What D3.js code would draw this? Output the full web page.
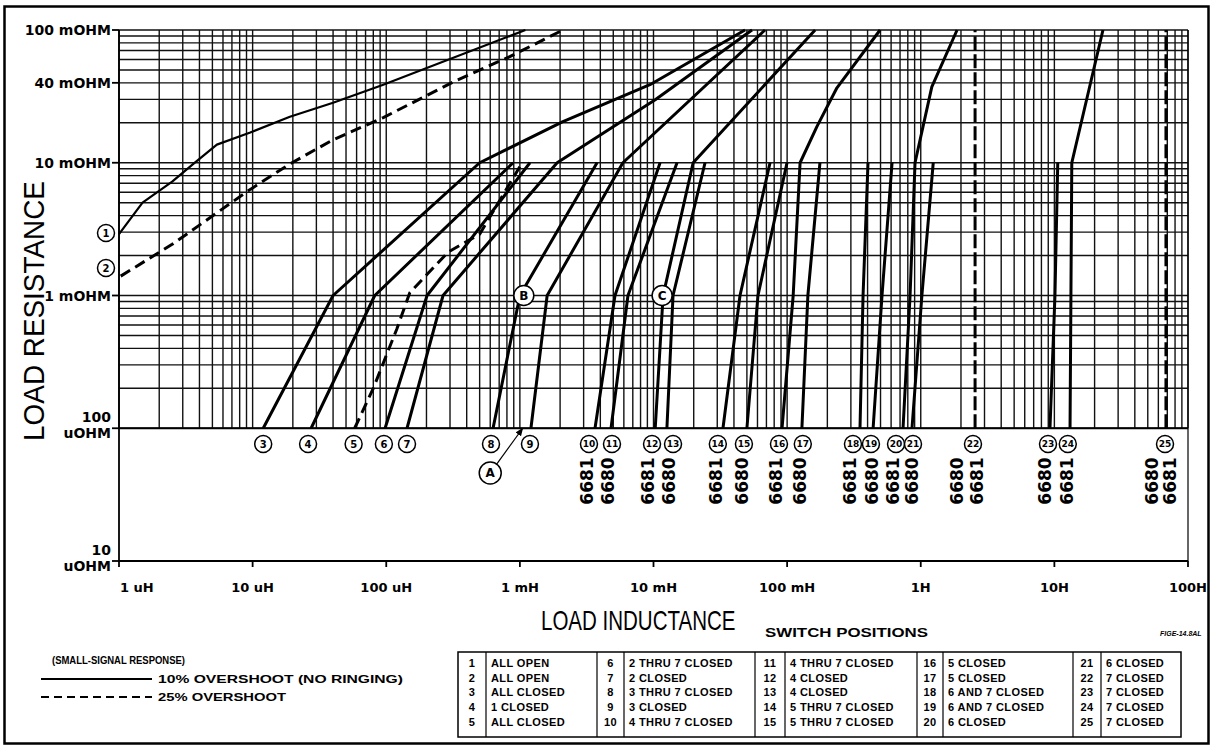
<!DOCTYPE html>
<html>
<head>
<meta charset="utf-8">
<script src="https://cdn.jsdelivr.net/npm/d3@7"></script>
<style>
  body { margin: 0; background: #fff; }
  svg { display: block; font-family: "DejaVu Sans", sans-serif; }
</style>
</head>
<body>
<svg id="chart" width="1214" height="746"></svg>
<script>
// load resistance (ohm) vs load inductance (henry), one polyline per switch position
var c1 = [[1e-6, 2.9e-3], [1.5e-6, 5.0e-3], [2.5e-6, 7.2e-3], [3.6e-6, 9.8e-3], [5.4e-6, 1.37e-2], [9.6e-6, 1.69e-2], [1.9e-5, 2.22e-2], [4.0e-5, 2.83e-2], [9.5e-5, 3.87e-2], [1.1e-3, 0.1]];
var c2 = [[1.03e-6, 1.4e-3], [2.5e-6, 2.43e-3], [9.6e-6, 6.3e-3], [1.9e-5, 9.8e-3], [4.0e-5, 1.49e-2], [9.5e-5, 2.19e-2], [3.4e-4, 4.2e-2], [8.4e-4, 6.3e-2], [2.1e-3, 0.1]];
var c3 = [[1.2e-5, 1e-4], [4.0e-5, 1e-3], [5.0e-4, 1e-2], [2.1e-3, 2.04e-2], [9.4e-3, 3.87e-2], [4.84e-2, 0.1]];
var c4 = [[2.74e-5, 1e-4], [8.2e-5, 1e-3], [8.9e-4, 1e-2]];
var c5 = [[5.8e-5, 1e-4], [8.0e-5, 2.0e-4], [1.2e-4, 5.6e-4], [1.5e-4, 1.05e-3], [2.9e-4, 2.12e-3], [5.0e-4, 2.9e-3], [1.04e-3, 1e-2]];
var c6 = [[9.8e-5, 1e-4], [2.02e-4, 1e-3], [1.19e-3, 1e-2]];
var c7 = [[1.43e-4, 1e-4], [2.66e-4, 1e-3], [1.9e-3, 1e-2], [1.03e-2, 2.98e-2], [5.46e-2, 0.1]];
var c8 = [[6.3e-4, 1e-4], [1.0e-3, 1e-3], [3.78e-3, 1e-2]];
var c9 = [[1.21e-3, 1e-4], [1.6e-3, 1e-3], [5.9e-3, 1e-2], [6.83e-2, 0.1]];
var c10 = [[3.65e-3, 1e-4], [5.15e-3, 1e-3], [1.12e-2, 1e-2]];
var c11 = [[4.81e-3, 1e-4], [6.44e-3, 1e-3], [1.5e-2, 1e-2]];
var c12 = [[1.03e-2, 1e-4], [1.18e-2, 1e-3], [1.98e-2, 1e-2], [0.162, 0.1]];
var c13 = [[1.26e-2, 1e-4], [1.4e-2, 1e-3], [2.43e-2, 1e-2]];
var c14 = [[3.31e-2, 1e-4], [4.44e-2, 1e-3], [7.45e-2, 1e-2]];
var c15 = [[5.0e-2, 1e-4], [6.05e-2, 1e-3], [9.98e-2, 1e-2]];
var c16 = [[9.16e-2, 1e-4], [0.111, 1e-3], [0.125, 1e-2], [0.167, 1.87e-2], [0.236, 3.67e-2], [0.496, 0.1]];
var c17 = [[0.129, 1e-4], [0.143, 1e-3], [0.176, 1e-2]];
var c18 = [[0.351, 1e-4], [0.37, 1e-3], [0.403, 1e-2]];
var c19 = [[0.44, 1e-4], [0.513, 1e-3], [0.61, 1e-2]];
var c20 = [[0.737, 1e-4], [0.832, 1e-3], [0.906, 1e-2], [1.21, 3.73e-2], [1.87, 0.1]];
var c21 = [[0.86, 1e-4], [1.02, 1e-3], [1.24, 1e-2]];
var c22 = [[2.55, 1e-4], [2.55, 0.1]];
var c23 = [[9.27, 1e-4], [10.1, 1e-3], [10.6, 1e-2]];
var c24 = [[13.1, 1e-4], [13.3, 1e-3], [13.5, 1e-2], [23.1, 0.1]];
var c25 = [[68.4, 1e-4], [68.4, 0.1]];

var curvePoints = [c1, c2, c3, c4, c5, c6, c7, c8, c9, c10, c11, c12, c13, c14, c15, c16, c17, c18, c19, c20, c21, c22, c23, c24, c25];
var curveNames = d3.range(1, 26).map(String);
var dashedCurves = ["2", "5"];
var dottedCurves = ["22", "25"];

// circled curve numbers: 1 and 2 sit at the left edge, 3..25 under the grid
var leftLabelNames = ["1", "2"];
var leftLabelR = [2.96e-3, 1.61e-3];
var bottomLabelNames = d3.range(3, 26).map(String);
var bottomLabelL = [1.2e-5, 2.6e-5, 5.7e-5, 9.6e-5, 1.43e-4, 6.08e-4, 1.19e-3, 3.29e-3, 4.89e-3, 9.75e-3, 1.4e-2, 3.03e-2, 4.75e-2, 8.69e-2, 0.131, 0.311, 0.424, 0.653, 0.875, 2.46, 8.96, 12.6, 67.3];

// supply model names written under the numbers
var modelLabelL = [3.18e-3, 4.57e-3, 9.1e-3, 1.31e-2, 2.93e-2, 4.59e-2, 8.26e-2, 0.125, 0.295, 0.432, 0.62, 0.861, 1.87, 2.64, 8.5, 12.4, 53.8, 73.3];
var modelLabelText = ["6681", "6680", "6681", "6680", "6681", "6680", "6681", "6680", "6681", "6680", "6681", "6680", "6680", "6681", "6680", "6681", "6680", "6681"];

// lettered reference points
var markerNames = ["B", "C"];
var markerL = [1.07e-3, 1.16e-2];
var markerR = [1e-3, 1e-3];
var noteA = [6.0e-4, 4.6e-5];
var noteATarget = [1.05e-3, 1e-4];

// axis ticks
var yTickValues = [0.1, 0.04, 0.01, 0.001, 1e-4, 1e-5];
var yTickText = [["100 mOHM"], ["40 mOHM"], ["10 mOHM"], ["1 mOHM"], ["100", "uOHM"], ["10", "uOHM"]];
var xTickValues = [1e-6, 1e-5, 1e-4, 1e-3, 1e-2, 1e-1, 1, 10, 100];
var xTickText = ["1 uH", "10 uH", "100 uH", "1 mH", "10 mH", "100 mH", "1H", "10H", "100H"];

// switch position table
var switchNumbers = d3.range(1, 26).map(String);
var switchText = ["ALL OPEN", "ALL OPEN", "ALL CLOSED", "1 CLOSED", "ALL CLOSED",
  "2 THRU 7 CLOSED", "2 CLOSED", "3 THRU 7 CLOSED", "3 CLOSED", "4 THRU 7 CLOSED",
  "4 THRU 7 CLOSED", "4 CLOSED", "4 CLOSED", "5 THRU 7 CLOSED", "5 THRU 7 CLOSED",
  "5 CLOSED", "5 CLOSED", "6 AND 7 CLOSED", "6 AND 7 CLOSED", "6 CLOSED",
  "6 CLOSED", "7 CLOSED", "7 CLOSED", "7 CLOSED", "7 CLOSED"];

var svg = d3.select("#chart");

var x = d3.scaleLog().domain([1e-6, 100]).range([119, 1188]);
var y = d3.scaleLog().domain([1e-5, 0.1]).range([561, 30]);
var gridBottom = y(1e-4);

// frame round the whole sheet
svg.append("rect")
  .attr("x", 4.5).attr("y", 6.5)
  .attr("width", 1204).attr("height", 737)
  .attr("fill", "none").attr("stroke", "#000").attr("stroke-width", 2.5);

// log grid, 1..9 in every decade
var xGrid = [];
for (var d = -6; d < 2; d++) for (var k = 1; k < 10; k++) xGrid.push(k * Math.pow(10, d));
xGrid.push(100);
var yGrid = [];
for (var e = -4; e < -1; e++) for (var m = 1; m < 10; m++) yGrid.push(m * Math.pow(10, e));
yGrid.push(0.1);

var grid = svg.append("g").attr("stroke", "#111").attr("stroke-width", 1.4);
grid.selectAll(".vg").data(xGrid).enter().append("line")
  .attr("x1", function(v) { return x(v); }).attr("x2", function(v) { return x(v); })
  .attr("y1", y(0.1)).attr("y2", gridBottom);
grid.selectAll(".hg").data(yGrid).enter().append("line")
  .attr("x1", x(1e-6)).attr("x2", x(100))
  .attr("y1", function(v) { return y(v); }).attr("y2", function(v) { return y(v); });

// outer axes
var axes = svg.append("g").attr("stroke", "#000").attr("stroke-width", 1.8).attr("fill", "none");
axes.append("line").attr("x1", x(1e-6)).attr("x2", x(1e-6)).attr("y1", y(0.1)).attr("y2", y(1e-5));
axes.append("line").attr("x1", x(1e-6)).attr("x2", x(100)).attr("y1", y(1e-5)).attr("y2", y(1e-5));
axes.append("line").attr("x1", x(100)).attr("x2", x(100)).attr("y1", y(0.1)).attr("y2", y(1e-5)).attr("stroke-width", 1.2);
axes.append("line").attr("x1", x(1e-6)).attr("x2", x(100)).attr("y1", gridBottom).attr("y2", gridBottom).attr("stroke-width", 2);

// y ticks and labels
axes.selectAll(".yt").data(yTickValues).enter().append("line")
  .attr("x1", x(1e-6) - 7).attr("x2", x(1e-6))
  .attr("y1", function(v) { return y(v); }).attr("y2", function(v) { return y(v); });
var yLab = svg.append("g").attr("font-weight", "bold").attr("font-size", 14).attr("text-anchor", "end");
yTickValues.forEach(function(v, i) {
  var lines = yTickText[i];
  lines.forEach(function(t, j) {
    var off = lines.length === 1 ? 5 : (j === 0 ? -6 : 10);
    yLab.append("text").attr("x", x(1e-6) - 8).attr("y", y(v) + off).text(t);
  });
});

// x ticks and labels
axes.selectAll(".xt").data(xTickValues).enter().append("line")
  .attr("x1", function(v) { return x(v); }).attr("x2", function(v) { return x(v); })
  .attr("y1", y(1e-5)).attr("y2", y(1e-5) + 6);
svg.append("g").attr("font-weight", "bold").attr("font-size", 13)
  .selectAll("text").data(xTickValues).enter().append("text")
  .attr("x", function(v, i) { return i === 0 ? x(v) + 1 : x(v); })
  .attr("y", 592)
  .attr("text-anchor", function(v, i) { return i === 0 ? "start" : "middle"; })
  .text(function(v, i) { return xTickText[i]; });

// axis titles, squeezed horizontally like the original lettering
svg.append("text")
  .attr("transform", "translate(44,311) rotate(-90) scale(0.93,1)")
  .attr("text-anchor", "middle").attr("font-size", 30)
  .attr("font-family", "Liberation Sans, sans-serif")
  .text("LOAD RESISTANCE");
svg.append("text")
  .attr("transform", "translate(541,630) scale(0.76,1)")
  .attr("font-size", 27)
  .attr("font-family", "Liberation Sans, sans-serif")
  .text("LOAD INDUCTANCE");

// curves
var line = d3.line().x(function(p) { return x(p[0]); }).y(function(p) { return y(p[1]); });
svg.append("g").attr("fill", "none").attr("stroke", "#000").attr("stroke-linejoin", "round")
  .selectAll("path").data(curvePoints).enter().append("path")
  .attr("d", line)
  .attr("stroke-width", function(p, i) { return i === 0 ? 2.2 : 3; })
  .attr("stroke-dasharray", function(p, i) {
    var n = curveNames[i];
    if (dashedCurves.indexOf(n) >= 0) return "11,6";
    if (dottedCurves.indexOf(n) >= 0) return "14,4";
    return null;
  });

// circled numbers
function circled(g, cx, cy, r, label, size) {
  g.append("circle").attr("cx", cx).attr("cy", cy).attr("r", r)
    .attr("fill", "#fff").attr("stroke", "#000").attr("stroke-width", 1.5);
  g.append("text").attr("x", cx).attr("y", cy + size * 0.36)
    .attr("text-anchor", "middle").attr("font-weight", "bold").attr("font-size", size)
    .text(label);
}
var marks = svg.append("g");
leftLabelNames.forEach(function(n, i) { circled(marks, 106, y(leftLabelR[i]), 8.5, n, 10); });
bottomLabelNames.forEach(function(n, i) {
  circled(marks, x(bottomLabelL[i]), 444, 8.5, n, n.length > 1 ? 9 : 10);
});
markerNames.forEach(function(n, i) { circled(marks, x(markerL[i]), y(markerR[i]), 10, n, 12); });

// note A with its arrow
svg.append("defs").append("marker")
  .attr("id", "arrow").attr("viewBox", "0 0 10 10").attr("refX", 9).attr("refY", 5)
  .attr("markerWidth", 7).attr("markerHeight", 7).attr("orient", "auto")
  .append("path").attr("d", "M0,1 L10,5 L0,9 z").attr("fill", "#000");
var ax = x(noteA[0]), ay = y(noteA[1]);
var tx = x(noteATarget[0]), ty = y(noteATarget[1]);
var ang = Math.atan2(ty - ay, tx - ax);
svg.append("line")
  .attr("x1", ax + 11 * Math.cos(ang)).attr("y1", ay + 11 * Math.sin(ang))
  .attr("x2", tx).attr("y2", ty)
  .attr("stroke", "#000").attr("stroke-width", 1.2).attr("marker-end", "url(#arrow)");
circled(marks, ax, ay, 11, "A", 12);

// model names, rotated
svg.append("g").attr("font-size", 17).attr("font-weight", "bold")
  .selectAll("text").data(modelLabelL).enter().append("text")
  .attr("transform", function(v) { return "translate(" + (x(v) + 6) + ",481) rotate(-90)"; })
  .attr("text-anchor", "middle")
  .text(function(v, i) { return modelLabelText[i]; });

// legend
var leg = svg.append("g").attr("font-weight", "bold").attr("font-size", 11)
  .attr("font-family", "Liberation Sans, sans-serif");
leg.append("text").attr("x", 52).attr("y", 664).attr("textLength", 133)
  .attr("lengthAdjust", "spacingAndGlyphs").text("(SMALL-SIGNAL RESPONSE)");
leg.append("line").attr("x1", 41).attr("x2", 152).attr("y1", 679).attr("y2", 679)
  .attr("stroke", "#000").attr("stroke-width", 2);
leg.append("text").attr("x", 158).attr("y", 683).attr("textLength", 245)
  .attr("lengthAdjust", "spacingAndGlyphs").text("10% OVERSHOOT (NO RINGING)");
leg.append("line").attr("x1", 41).attr("x2", 152).attr("y1", 697).attr("y2", 697)
  .attr("stroke", "#000").attr("stroke-width", 2).attr("stroke-dasharray", "8,5");
leg.append("text").attr("x", 158).attr("y", 701).attr("textLength", 128)
  .attr("lengthAdjust", "spacingAndGlyphs").text("25% OVERSHOOT");

// switch positions table
svg.append("text").attr("x", 765).attr("y", 637).attr("font-size", 12).attr("font-weight", "bold")
  .attr("font-family", "Liberation Sans, sans-serif")
  .attr("textLength", 163).attr("lengthAdjust", "spacingAndGlyphs").text("SWITCH POSITIONS");
svg.append("text").attr("x", 1160).attr("y", 636).attr("font-size", 7).attr("font-style", "italic")
  .attr("font-weight", "bold").attr("font-family", "Liberation Sans, sans-serif").text("FIGE-14.8AL");

var colEdges = [458, 486, 597, 624, 755, 785, 917, 943, 1073, 1101, 1181];
var tableTop = 652, tableBottom = 737;
var tab = svg.append("g");
tab.append("rect").attr("x", colEdges[0]).attr("y", tableTop)
  .attr("width", colEdges[10] - colEdges[0]).attr("height", tableBottom - tableTop)
  .attr("fill", "none").attr("stroke", "#000").attr("stroke-width", 1.5);
tab.selectAll(".cd").data(colEdges.slice(1, 10)).enter().append("line")
  .attr("x1", function(v) { return v; }).attr("x2", function(v) { return v; })
  .attr("y1", tableTop).attr("y2", tableBottom)
  .attr("stroke", "#000").attr("stroke-width", 1.2);
var tt = tab.append("g").attr("font-size", 11).attr("font-weight", "bold")
  .attr("letter-spacing", 0.4)
  .attr("font-family", "Liberation Sans, sans-serif");
switchNumbers.forEach(function(n, i) {
  var col = Math.floor(i / 5), row = i % 5;
  var ty2 = 667 + row * 14.7;
  tt.append("text").attr("x", (colEdges[col * 2] + colEdges[col * 2 + 1]) / 2).attr("y", ty2)
    .attr("text-anchor", "middle").text(n);
  tt.append("text").attr("x", colEdges[col * 2 + 1] + 5).attr("y", ty2).text(switchText[i]);
});
</script>
</body>
</html>
